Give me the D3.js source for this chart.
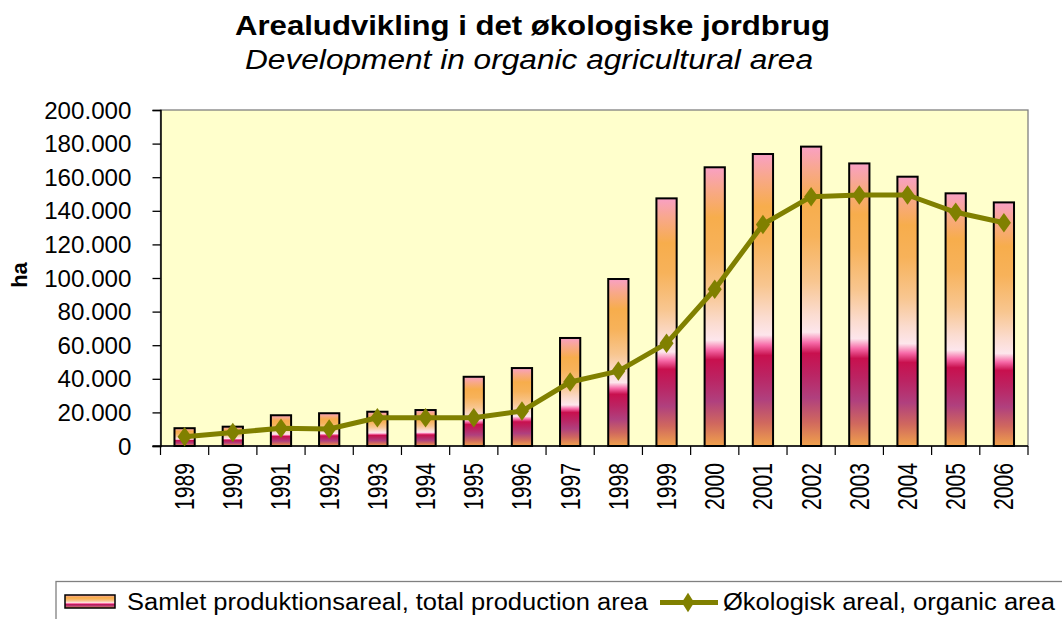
<!DOCTYPE html>
<html>
<head>
<meta charset="utf-8">
<script src="https://cdn.jsdelivr.net/npm/d3@7"></script>
<style>
  body { margin: 0; background: #fff; }
  text { font-family: "Liberation Sans", Arial, sans-serif; }
</style>
</head>
<body>
<svg id="chart" width="1062" height="619"></svg>
<script>
// data
var years = ["1989","1990","1991","1992","1993","1994","1995","1996","1997","1998","1999","2000","2001","2002","2003","2004","2005","2006"]
var totalArea = [10600, 11500, 18300, 19500, 20400, 21400, 41200, 46400, 64300, 99400, 147400, 165900, 173800, 178200, 168200, 160300, 150400, 145000]
var organicArea = [5500, 8100, 10500, 10100, 16800, 16800, 16800, 20800, 38100, 44600, 61100, 93300, 131900, 148400, 149400, 149400, 139100, 132900]
var yTicks = [0, 20000, 40000, 60000, 80000, 100000, 120000, 140000, 160000, 180000, 200000]

var svg = d3.select('#chart')
var margin = { top: 110, left: 160.5, right: 1028, bottom: 446 }

// gradient of the bars
var defs = svg.append('defs')
var grad = defs.append('linearGradient').attr('id', 'barFill')
    .attr('x1', 0).attr('y1', 0).attr('x2', 0).attr('y2', 1)
var stops = [
    [0, '#f9a0c4'], [0.08, '#f8a88a'], [0.18, '#f7ad4c'], [0.3, '#f7b25a'],
    [0.45, '#f8c690'], [0.56, '#fbdcd0'], [0.62, '#fde6ec'], [0.655, '#f76aa8'],
    [0.69, '#c8104e'], [0.76, '#bb2463'], [0.84, '#b0407e'], [0.92, '#d0685e'], [1, '#f0a24c']
]
stops.forEach(function (s) {
    grad.append('stop').attr('offset', s[0]).attr('stop-color', s[1])
})

var x_scale = d3.scaleBand()
    .domain(years)
    .range([margin.left, margin.right])
    .paddingInner(0.58)
    .paddingOuter(0.29)

var band = d3.scaleBand().domain(years).range([margin.left, margin.right])

var y_scale = d3.scaleLinear()
    .domain([0, 200000])
    .range([margin.bottom, margin.top])

// plot background
svg.append('rect')
    .attr('x', margin.left).attr('y', margin.top)
    .attr('width', margin.right - margin.left).attr('height', margin.bottom - margin.top)
    .attr('fill', '#ffffcc')
    .attr('stroke', '#808080').attr('stroke-width', 1.3)

// y axis
var y_axis = d3.axisLeft(y_scale)
    .tickValues(yTicks)
    .tickSize(8)
    .tickPadding(13)
    .tickFormat(function (d) { return d3.format(',')(d).replace(/,/g, '.') })

var gy = svg.append('g')
    .attr('transform', 'translate(' + margin.left + ',0)')
    .call(y_axis)
gy.select('.domain').attr('stroke', '#000').attr('stroke-width', 1.5)
gy.selectAll('.tick line').attr('stroke', '#000').attr('stroke-width', 1.3)
gy.selectAll('.tick text')
    .attr('font-size', 23).attr('fill', '#000')
    .attr('font-family', '"Liberation Sans", Arial, sans-serif')
    .attr('dy', '0.35em')
    .attr('transform', 'translate(-7,0) scale(1.05,1)')

// x axis: ticks between categories
var gx = svg.append('g')
svg.append('line')
    .attr('x1', margin.left - 8).attr('x2', margin.right)
    .attr('y1', margin.bottom).attr('y2', margin.bottom)
    .attr('stroke', '#000').attr('stroke-width', 1.5)
gx.selectAll('line.xt')
    .data(years.concat(['end']))
    .enter().append('line')
    .attr('class', 'xt')
    .attr('x1', function (d, i) { return i < years.length ? band(d) : margin.right })
    .attr('x2', function (d, i) { return i < years.length ? band(d) : margin.right })
    .attr('y1', margin.bottom).attr('y2', margin.bottom + 9)
    .attr('stroke', '#000').attr('stroke-width', 1.2)

gx.selectAll('text.xl')
    .data(years)
    .enter().append('text')
    .attr('class', 'xl')
    .attr('transform', function (d) {
        return 'translate(' + (x_scale(d) + x_scale.bandwidth() / 2 + 9.5) + ',' + (margin.bottom + 17) + ') rotate(-90)'
    })
    .attr('text-anchor', 'end')
    .attr('font-size', 28)
    .attr('textLength', 47)
    .attr('lengthAdjust', 'spacingAndGlyphs')
    .text(function (d) { return d })

// bars
svg.selectAll('rect.bar')
    .data(totalArea)
    .enter().append('rect')
    .attr('class', 'bar')
    .attr('x', function (d, i) { return x_scale(years[i]) })
    .attr('width', x_scale.bandwidth())
    .attr('y', function (d) { return y_scale(d) })
    .attr('height', function (d) { return y_scale(0) - y_scale(d) })
    .attr('fill', 'url(#barFill)')
    .attr('stroke', '#000').attr('stroke-width', 2)

// organic line
var cx = function (d, i) { return x_scale(years[i]) + x_scale.bandwidth() / 2 }
var line = d3.line()
    .x(cx)
    .y(function (d) { return y_scale(d) })

svg.append('path')
    .datum(organicArea)
    .attr('d', line)
    .attr('fill', 'none')
    .attr('stroke', '#808000')
    .attr('stroke-width', 5)
    .attr('stroke-linejoin', 'round')

var diamond = d3.symbol().type(d3.symbolDiamond).size(110)
svg.selectAll('path.pt')
    .data(organicArea)
    .enter().append('path')
    .attr('class', 'pt')
    .attr('d', diamond)
    .attr('transform', function (d, i) { return 'translate(' + cx(d, i) + ',' + y_scale(d) + ') scale(1.25,1)' })
    .attr('fill', '#808000')

// titles
svg.append('text')
    .attr('x', 235).attr('y', 35)
    .attr('font-size', 27).attr('font-weight', 'bold')
    .attr('textLength', 595).attr('lengthAdjust', 'spacingAndGlyphs')
    .text('Arealudvikling i det økologiske jordbrug')
svg.append('text')
    .attr('x', 245).attr('y', 69)
    .attr('font-size', 27).attr('font-style', 'italic')
    .attr('textLength', 568).attr('lengthAdjust', 'spacingAndGlyphs')
    .text('Development in organic agricultural area')

// y label
svg.append('text')
    .attr('transform', 'translate(27,275) rotate(-90)')
    .attr('text-anchor', 'middle')
    .attr('font-size', 22).attr('font-weight', 'bold')
    .text('ha')

// legend
var lg = svg.append('g')
lg.append('rect')
    .attr('x', 56).attr('y', 581.5).attr('width', 1012).attr('height', 50)
    .attr('fill', '#fff').attr('stroke', '#808080').attr('stroke-width', 1.3)
lg.append('rect')
    .attr('x', 65).attr('y', 595).attr('width', 50).attr('height', 13)
    .attr('fill', 'url(#barFill)').attr('stroke', '#000').attr('stroke-width', 1.5)
lg.append('text')
    .attr('x', 127).attr('y', 610)
    .attr('font-size', 23)
    .attr('textLength', 521).attr('lengthAdjust', 'spacingAndGlyphs')
    .text('Samlet produktionsareal, total production area')
lg.append('line')
    .attr('x1', 660).attr('x2', 718).attr('y1', 602.5).attr('y2', 602.5)
    .attr('stroke', '#808000').attr('stroke-width', 5)
lg.append('path')
    .attr('d', diamond)
    .attr('transform', 'translate(688,602.5) scale(1.1,1)')
    .attr('fill', '#808000')
lg.append('text')
    .attr('x', 723).attr('y', 610)
    .attr('font-size', 23)
    .attr('textLength', 332).attr('lengthAdjust', 'spacingAndGlyphs')
    .text('Økologisk areal, organic area')
</script>
</body>
</html>
